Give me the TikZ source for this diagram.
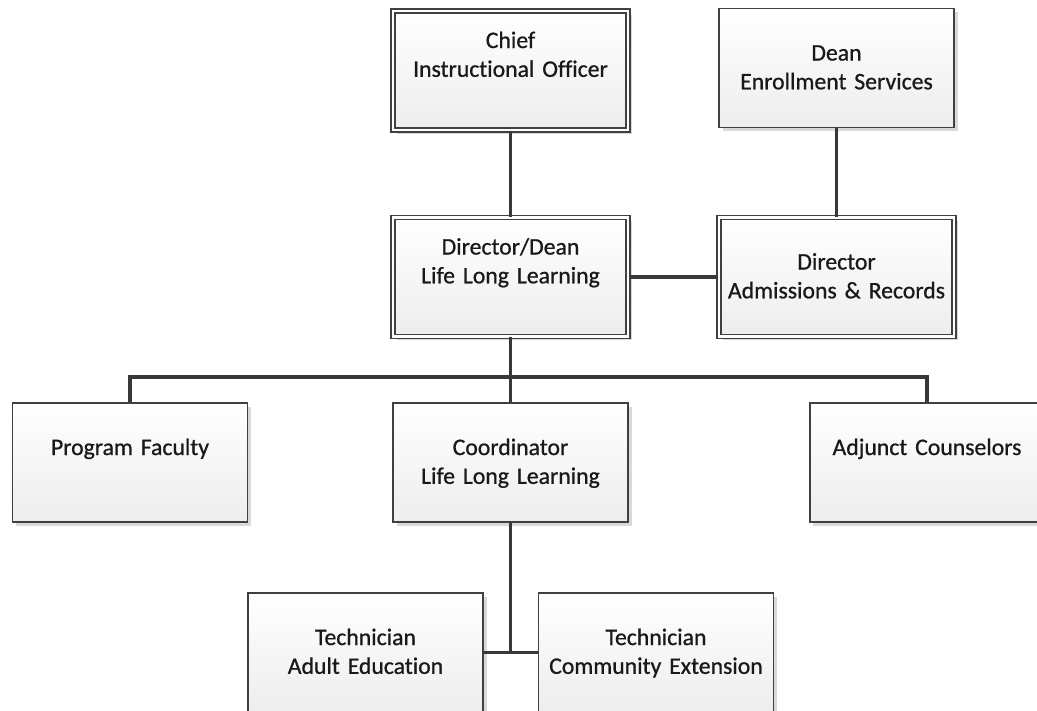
\documentclass[tikz,border=0pt]{standalone}
\usepackage{fontspec}
\setmainfont{Carlito}[Ligatures=NoCommon,FakeBold=0.8,BoldFont=Carlito]
\usetikzlibrary{shadows}

\begin{document}
\begin{tikzpicture}[x=0.02cm,y=-0.02cm,
  box/.style={rectangle,draw=black!75,line width=1.1pt,top color=white,bottom color=black!7,
    drop shadow={shadow xshift=2.2pt,shadow yshift=-2.2pt,fill=black!15,opacity=1},
    inner sep=0pt,text width=4.7cm,align=center,text height=1.04cm,text depth=1.34cm,
    font=\fontsize{13.5}{16.4}\selectfont\bfseries,text=black!90},
  dbox/.style={box,double=white,double distance=1.5pt,line width=0.75pt},
  high/.style={text height=0.74cm,text depth=1.64cm},
  link/.style={draw=black!78,line width=1.8pt}]
\useasboundingbox (0,0) rectangle (1037,710);

\node[dbox,high] (chief) at (510.5,70.5) {Chief\\Instructional Officer};
\node[box] (dean) at (836.5,68) {Dean\\Enrollment Services};
\node[dbox,high] (dirdean) at (510.5,277) {Director/Dean\\Life Long Learning};
\node[dbox] (dirar) at (836.5,277) {Director\\Admissions \& Records};

\node[box] (faculty) at (130,462.5) {Program Faculty};
\node[box] (coord) at (510.5,462.5) {Coordinator\\Life Long Learning};
\node[box] (adjunct) at (927,462.5) {Adjunct Counselors};

\node[box] (techadult) at (365.5,652.5) {Technician\\Adult Education};
\node[box] (techcomm) at (656,652.5) {Technician\\Community Extension};

% connectors
\coordinate (bus) at (510.5,377);
\draw[link] (chief) -- (dirdean);
\draw[link] (dean) -- (dirar);
\draw[link] (dirdean) -- (dirar);
\draw[link] (dirdean) -- (coord);
\draw[link] (faculty.north) |- (bus) -| (adjunct.north);
\draw[link] (coord) -- (coord |- techadult);
\draw[link] (techadult) -- (techcomm);
\end{tikzpicture}
\end{document}
